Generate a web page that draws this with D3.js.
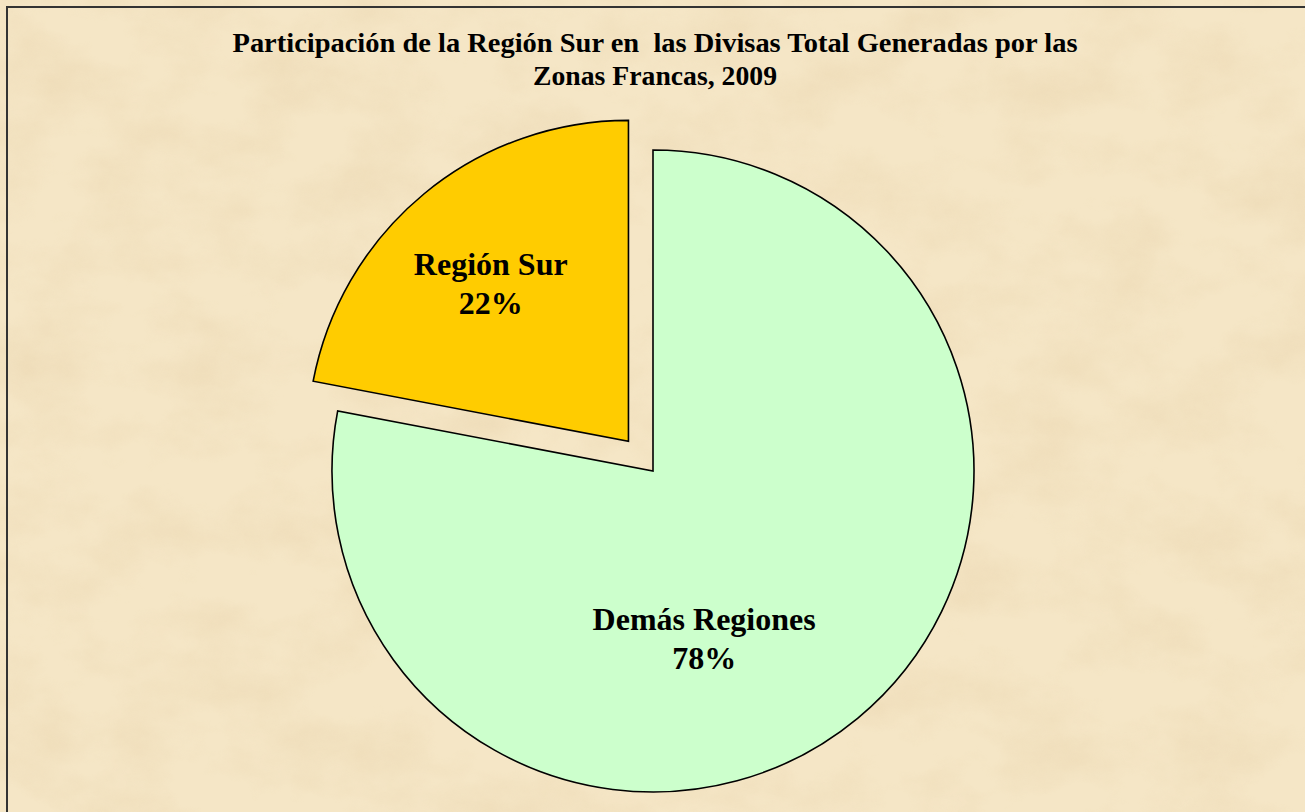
<!DOCTYPE html>
<html>
<head>
<meta charset="utf-8">
<script src="https://cdn.jsdelivr.net/npm/d3@7"></script>
<style>
  html, body { margin: 0; padding: 0; background: #fff; overflow: hidden; }
  svg { display: block; }
</style>
</head>
<body>
<div id="chart-area"></div>
<script>
// data
const categories = ["Demás Regiones", "Región Sur"]
const values = [78, 22]
const percentLabels = ["78%", "22%"]
const colors = ["#ccffcc", "#ffcc00"]
const exploded = [false, true]
const titleLines = [
  "Participación de la Región Sur en  las Divisas Total Generadas por las",
  "Zonas Francas, 2009"
]

const w = 1305
const h = 812

const svg = d3.select("#chart-area")
  .append("svg")
  .attr("width", w)
  .attr("height", h)

// parchment-like background
const defs = svg.append("defs")
const f = defs.append("filter")
  .attr("id", "paper")
  .attr("x", 0).attr("y", 0).attr("width", "100%").attr("height", "100%")
f.append("feTurbulence")
  .attr("type", "fractalNoise")
  .attr("baseFrequency", "0.012 0.018")
  .attr("numOctaves", 5)
  .attr("seed", 3)
  .attr("result", "noise")
f.append("feColorMatrix")
  .attr("in", "noise")
  .attr("type", "matrix")
  .attr("values", "0 0 0 0 0.80  0 0 0 0 0.64  0 0 0 0 0.40  1.3 0 0 0 -0.5")

svg.append("rect")
  .attr("width", w).attr("height", h)
  .attr("fill", "#f5e6c6")
svg.append("rect")
  .attr("width", w).attr("height", h)
  .attr("filter", "url(#paper)")
  .attr("opacity", 0.6)

// frame
svg.append("rect")
  .attr("x", 7).attr("y", 7)
  .attr("width", w + 20).attr("height", h + 20)
  .attr("fill", "none")
  .attr("stroke", "#333")
  .attr("stroke-width", 2)

// title
svg.append("g")
  .selectAll("text")
  .data(titleLines)
  .enter()
  .append("text")
  .attr("x", 655)
  .attr("y", (d, i) => 52 + i * 33)
  .attr("text-anchor", "middle")
  .attr("textLength", (d, i) => i === 0 ? 845 : 244)
  .attr("lengthAdjust", "spacingAndGlyphs")
  .style("white-space", "pre")
  .style("font-family", "'Liberation Serif', 'Times New Roman', serif")
  .style("font-weight", "bold")
  .style("font-size", "28px")
  .text(d => d)

// pie
const cx = 653
const cy = 471
const r = 321
const explodeDist = 38.5

const slices = categories.map((c, i) => ({
  name: c, value: values[i], label: percentLabels[i], color: colors[i], exploded: exploded[i]
}))

const pie = d3.pie().sort(null).value(d => d.value)
const arc = d3.arc().innerRadius(0).outerRadius(r)
const arcs = pie(slices)

// label placement relative to each slice's mid angle
const labelLayout = {
  "Región Sur": { rf: 0.654, da: -1.4 },
  "Demás Regiones": { rf: 0.545, da: 22.6 }
}

const g = svg.append("g").attr("transform", `translate(${cx},${cy})`)

const sliceG = g.selectAll(".slice")
  .data(arcs)
  .enter()
  .append("g")
  .attr("class", "slice")
  .attr("transform", d => {
    if (!d.data.exploded) return null
    const a = (d.startAngle + d.endAngle) / 2
    return `translate(${Math.sin(a) * explodeDist},${-Math.cos(a) * explodeDist})`
  })

sliceG.append("path")
  .attr("d", arc)
  .attr("fill", d => d.data.color)
  .attr("stroke", "#000")
  .attr("stroke-width", 1.6)
  .attr("stroke-linejoin", "miter")

const labels = sliceG.append("text")
  .attr("text-anchor", "middle")
  .style("font-family", "'Liberation Serif', 'Times New Roman', serif")
  .style("font-weight", "bold")
  .style("font-size", "32px")
  .attr("transform", d => {
    const l = labelLayout[d.data.name]
    const a = (d.startAngle + d.endAngle) / 2 + l.da * Math.PI / 180
    return `translate(${Math.sin(a) * r * l.rf},${-Math.cos(a) * r * l.rf})`
  })

labels.append("tspan")
  .attr("x", 0).attr("y", -8)
  .text(d => d.data.name)
labels.append("tspan")
  .attr("x", 0).attr("y", 31)
  .text(d => d.data.label)
</script>
</body>
</html>
